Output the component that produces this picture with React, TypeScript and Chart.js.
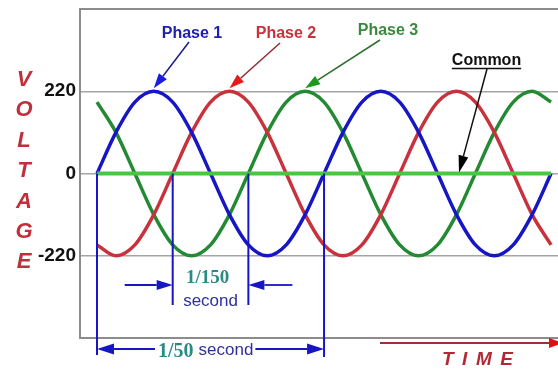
import React, { useEffect, useRef } from "react";
import { Chart, registerables } from "chart.js";

Chart.register(...registerables);

// electrical angle (degrees) of each sample; 360° = 1/50 second
const angles = [0, 30, 60, 90, 120, 150, 180, 210, 240, 270, 300, 330, 360, 390, 420, 450, 480, 510, 540, 570, 600, 630, 660, 690, 720];
const phase1 = [0, 110, 191, 220, 191, 110, 0, -110, -191, -220, -191, -110, 0, 110, 191, 220, 191, 110, 0, -110, -191, -220, -191, -110, 0];
const phase2 = [-191, -220, -191, -110, 0, 110, 191, 220, 191, 110, 0, -110, -191, -220, -191, -110, 0, 110, 191, 220, 191, 110, 0, -110, -191];
const phase3 = [191, 110, 0, -110, -191, -220, -191, -110, 0, 110, 191, 220, 191, 110, 0, -110, -191, -220, -191, -110, 0, 110, 191, 220, 191];
const commonAngles = [0, 720];
const commonValues = [0, 0];

const yTickValues = [-220, 0, 220];
const yTickLabels = ["-220", "0", "220"];

const phaseNames = ["Phase 1", "Phase 2", "Phase 3"];
const phasePeakAngles = [90, 210, 330];
const commonLabel = "Common";
const commonPointAngle = 574;
const voltageTitle = "VOLTAGE";
const timeTitle = "TIME";
const intervalAngles = [0, 120, 240, 360];
const shortIntervalText = ["1/150", "second"];
const longIntervalText = ["1/50", "second"];

const SANS = "'Liberation Sans', Arial, sans-serif";
const SERIF = "'Liberation Serif', 'Times New Roman', serif";

const BLUE = "#1616c4";
const RED = "#c8323c";
const GREEN = "#238a33";
const COMMON_GREEN = "#4cc444";

function arrow(ctx: CanvasRenderingContext2D, x1: number, y1: number, x2: number, y2: number, lineColor: string, headColor: string, lw: number, hl: number, hw: number) {
  const a = Math.atan2(y2 - y1, x2 - x1);
  const bx = x2 - Math.cos(a) * hl;
  const by = y2 - Math.sin(a) * hl;
  ctx.strokeStyle = lineColor;
  ctx.lineWidth = lw;
  ctx.beginPath();
  ctx.moveTo(x1, y1);
  ctx.lineTo(bx, by);
  ctx.stroke();
  ctx.fillStyle = headColor;
  ctx.beginPath();
  ctx.moveTo(x2, y2);
  ctx.lineTo(bx + Math.sin(a) * hw, by - Math.cos(a) * hw);
  ctx.lineTo(bx - Math.sin(a) * hw, by + Math.cos(a) * hw);
  ctx.closePath();
  ctx.fill();
}

const overlayPlugin = {
  id: "overlay",
  afterDraw(chart: any) {
    const ctx: CanvasRenderingContext2D = chart.ctx;
    const xs = chart.scales.x;
    const ys = chart.scales.y;
    const area = chart.chartArea;
    const X = (v: number) => xs.getPixelForValue(v);
    const Y = (v: number) => ys.getPixelForValue(v);
    ctx.save();

    // VOLTAGE letters
    ctx.font = `italic bold 22px ${SANS}`;
    ctx.fillStyle = "#c0303c";
    ctx.textAlign = "center";
    ctx.textBaseline = "alphabetic";
    voltageTitle.split("").forEach((ch, i) => {
      ctx.fillText(ch, 24, 86 + i * 30.4);
    });

    // interval vertical lines
    ctx.strokeStyle = BLUE;
    ctx.lineWidth = 2;
    const ends = [area.bottom + 17, area.bottom - 33, area.bottom - 33, area.bottom + 19];
    intervalAngles.forEach((a, i) => {
      ctx.beginPath();
      ctx.moveTo(X(a), Y(0));
      ctx.lineTo(X(a), ends[i]);
      ctx.stroke();
    });

    // short interval (1/150 s)
    const sy = area.bottom - 53;
    const x120 = X(intervalAngles[1]);
    const x240 = X(intervalAngles[2]);
    arrow(ctx, x120 - 48, sy, x120, sy, BLUE, BLUE, 1.8, 16, 5);
    arrow(ctx, x240 + 44, sy, x240, sy, BLUE, BLUE, 1.8, 16, 5);
    ctx.textAlign = "center";
    ctx.font = `bold 19px ${SERIF}`;
    ctx.fillStyle = "#2a8a84";
    ctx.fillText(shortIntervalText[0], (x120 + x240) / 2 - 3, sy - 2);
    ctx.font = `17px ${SANS}`;
    ctx.fillStyle = "#30309a";
    ctx.fillText(shortIntervalText[1], (x120 + x240) / 2, sy + 21);

    // long interval (1/50 s)
    const ly = area.bottom + 11;
    const x0 = X(intervalAngles[0]);
    const x360 = X(intervalAngles[3]);
    ctx.textAlign = "left";
    ctx.font = `bold 20px ${SERIF}`;
    const w1 = ctx.measureText(longIntervalText[0]).width;
    ctx.font = `17px ${SANS}`;
    const w2 = ctx.measureText(longIntervalText[1]).width;
    const tx = 158;
    arrow(ctx, tx - 3, ly, x0, ly, BLUE, BLUE, 1.8, 17, 5.5);
    arrow(ctx, tx + w1 + 5 + w2 + 2, ly, x360, ly, BLUE, BLUE, 1.8, 17, 5.5);
    ctx.font = `bold 20px ${SERIF}`;
    ctx.fillStyle = "#2a8a84";
    ctx.fillText(longIntervalText[0], tx, ly + 8);
    ctx.font = `17px ${SANS}`;
    ctx.fillStyle = "#30309a";
    ctx.fillText(longIntervalText[1], tx + w1 + 5, ly + 6);

    // phase labels and arrows
    const labelPos = [
      { cx: 192, by: 38, ax: 189, ay: 42 },
      { cx: 286, by: 38, ax: 280, ay: 43 },
      { cx: 388, by: 35, ax: 380, ay: 40 },
    ];
    const textColors = ["#2020b0", "#c8323c", "#3a8a3e"];
    const lineColors = ["#1c1c8c", "#8c2c34", "#2e6e2e"];
    const headColors = ["#1a1ae0", "#e41c1c", "#1a9a1a"];
    ctx.font = `bold 16px ${SANS}`;
    ctx.textAlign = "center";
    phaseNames.forEach((name, i) => {
      const p = labelPos[i];
      ctx.fillStyle = textColors[i];
      ctx.fillText(name, p.cx, p.by);
      arrow(ctx, p.ax, p.ay, X(phasePeakAngles[i]), Y(220) - 3, lineColors[i], headColors[i], 1.5, 15, 5);
    });

    // Common label
    ctx.fillStyle = "#111";
    ctx.fillText(commonLabel, 486.5, 65);
    const cw = ctx.measureText(commonLabel).width;
    ctx.strokeStyle = "#111";
    ctx.lineWidth = 1.5;
    ctx.beginPath();
    ctx.moveTo(486.5 - cw / 2, 68.5);
    ctx.lineTo(486.5 + cw / 2, 68.5);
    ctx.stroke();
    arrow(ctx, 487, 69, X(commonPointAngle), Y(0) - 1, "#111", "#000", 1.5, 17, 5);

    // TIME arrow and text
    arrow(ctx, 380, area.bottom + 5, 563, area.bottom + 5, "#a03038", "#e01010", 2, 14, 5);
    ctx.font = `italic bold 19px ${SANS}`;
    ctx.fillStyle = "#b02a36";
    ctx.textAlign = "left";
    let cx = 442;
    timeTitle.split("").forEach((ch) => {
      ctx.fillText(ch, cx, area.bottom + 27);
      cx += ctx.measureText(ch).width + 8.5;
    });

    ctx.restore();
  },
};

export default function App() {
  const ref = useRef<HTMLCanvasElement | null>(null);

  useEffect(() => {
    if (!ref.current) return;
    const line = (vals: number[], color: string, label: string) => ({
      label,
      data: angles.map((a, i) => ({ x: a, y: vals[i] })),
      borderColor: color,
      borderWidth: 3.5,
      pointRadius: 0,
      cubicInterpolationMode: "monotone" as const,
      fill: false,
    });
    const chart = new Chart(ref.current, {
      type: "line",
      data: {
        datasets: [
          {
            label: commonLabel,
            data: commonAngles.map((a, i) => ({ x: a, y: commonValues[i] })),
            borderColor: COMMON_GREEN,
            borderWidth: 4,
            pointRadius: 0,
            fill: false,
          },
          line(phase1, BLUE, phaseNames[0]),
          line(phase2, RED, phaseNames[1]),
          line(phase3, GREEN, phaseNames[2]),
        ],
      },
      options: {
        animation: false,
        responsive: false,
        layout: { padding: { left: 0, top: 9, right: 0, bottom: 31 } },
        plugins: { legend: { display: false }, title: { display: false }, tooltip: { enabled: false } },
        scales: {
          x: { type: "linear", min: -27, max: 731, display: false },
          y: {
            min: -440,
            max: 440,
            ticks: {
              stepSize: 220,
              padding: 4,
              color: "#111",
              font: { family: SANS, size: 19, weight: "bold" },
              callback: (v: any) => {
                const i = yTickValues.indexOf(Number(v));
                return i >= 0 ? yTickLabels[i] : "";
              },
            },
            grid: {
              drawTicks: false,
              color: (c: any) => (Math.abs(c.tick?.value) === 440 ? "#8c8c8c" : "#a4a4a4"),
              lineWidth: (c: any) => (Math.abs(c.tick?.value) === 440 ? 2 : 1.5),
            },
            border: { display: true, color: "#8c8c8c", width: 2 },
            afterFit: (s: any) => {
              s.width = 80;
              s.paddingTop = 0;
              s.paddingBottom = 0;
            },
          },
        },
      } as any,
      plugins: [overlayPlugin],
    });
    return () => chart.destroy();
  }, []);

  return (
    <div style={{ position: "fixed", left: 0, top: 0, width: 558, height: 369, background: "#fff" }}>
      <canvas ref={ref} width={558} height={369} style={{ display: "block" }} />
    </div>
  );
}
